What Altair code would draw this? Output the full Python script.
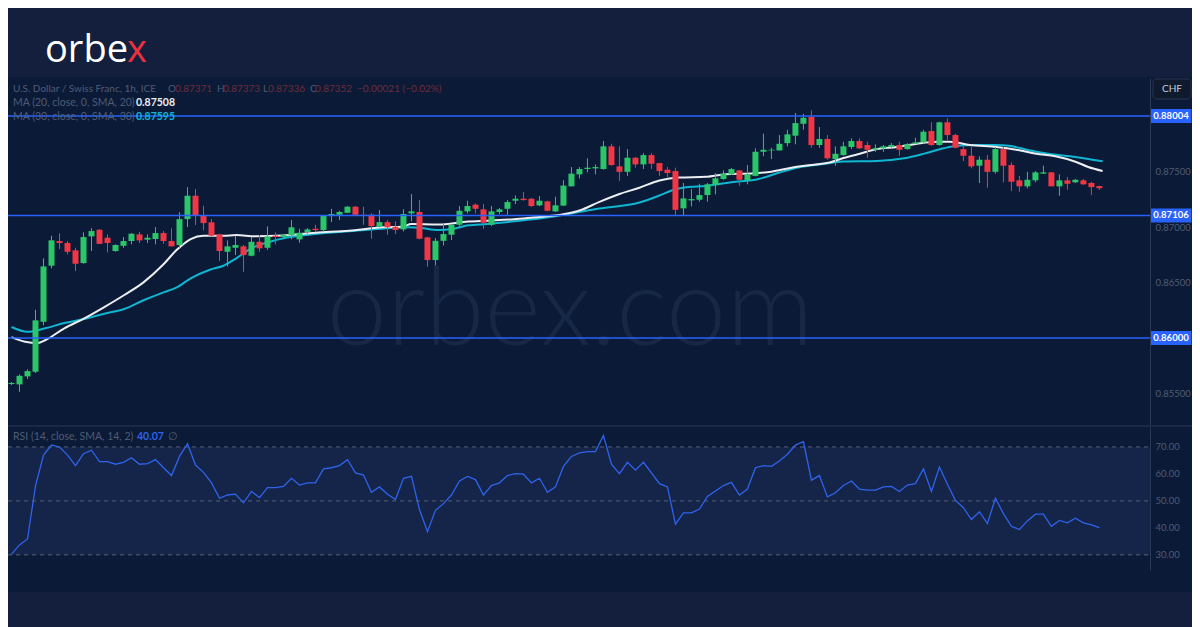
import json
import altair as alt
import pandas as pd

# ---------------- data ----------------
opens = [0.85584, 0.85581, 0.85653, 0.85695, 0.86146, 0.86652, 0.86875, 0.86857, 0.86791, 0.86676,
         0.86917, 0.86977, 0.86905, 0.86785, 0.86832, 0.86875, 0.86935, 0.86887, 0.86893, 0.86947,
         0.86875, 0.86839, 0.87073, 0.87284, 0.87110, 0.87044, 0.86935, 0.86778, 0.86814, 0.86827,
         0.86742, 0.86868, 0.86814, 0.86923, 0.86911, 0.86926, 0.86890, 0.86956, 0.86986, 0.86974,
         0.87101, 0.87112, 0.87130, 0.87185, 0.87112, 0.87112, 0.87004, 0.87046, 0.87004, 0.86980,
         0.87125, 0.87137, 0.86908, 0.86703, 0.86877, 0.86932, 0.87022, 0.87143, 0.87203, 0.87161,
         0.87022, 0.87137, 0.87166, 0.87239, 0.87257, 0.87257, 0.87197, 0.87233, 0.87143, 0.87195,
         0.87369, 0.87477, 0.87525, 0.87531, 0.87525, 0.87730, 0.87549, 0.87500, 0.87627, 0.87567,
         0.87651, 0.87579, 0.87519, 0.87507, 0.87170, 0.87242, 0.87248, 0.87290, 0.87380, 0.87435,
         0.87477, 0.87513, 0.87423, 0.87463, 0.87681, 0.87693, 0.87693, 0.87759, 0.87826, 0.87934,
         0.87995, 0.87742, 0.87796, 0.87615, 0.87651, 0.87724, 0.87778, 0.87742, 0.87699, 0.87712,
         0.87724, 0.87742, 0.87705, 0.87753, 0.87766, 0.87868, 0.87742, 0.87947, 0.87832, 0.87705,
         0.87645, 0.87555, 0.87609, 0.87500, 0.87705, 0.87561, 0.87423, 0.87369, 0.87423, 0.87483,
         0.87495, 0.87369, 0.87423, 0.87405, 0.87423, 0.87399, 0.87371]
highs = [0.85602, 0.85671, 0.85716, 0.86254, 0.86719, 0.86923, 0.86944, 0.86875, 0.86814, 0.86953,
         0.86990, 0.86983, 0.86935, 0.86845, 0.86911, 0.86947, 0.86958, 0.86935, 0.87001, 0.86965,
         0.86990, 0.87134, 0.87362, 0.87344, 0.87194, 0.87073, 0.86941, 0.86881, 0.86923, 0.86839,
         0.86911, 0.86929, 0.87008, 0.86953, 0.86938, 0.87064, 0.86986, 0.86992, 0.87022, 0.87107,
         0.87166, 0.87148, 0.87191, 0.87191, 0.87185, 0.87125, 0.87155, 0.87064, 0.87053, 0.87161,
         0.87299, 0.87245, 0.86914, 0.86902, 0.87035, 0.87028, 0.87191, 0.87239, 0.87215, 0.87209,
         0.87191, 0.87173, 0.87245, 0.87287, 0.87317, 0.87263, 0.87281, 0.87239, 0.87275, 0.87424,
         0.87543, 0.87543, 0.87622, 0.87567, 0.87778, 0.87753, 0.87730, 0.87705, 0.87633, 0.87669,
         0.87669, 0.87579, 0.87543, 0.87537, 0.87399, 0.87344, 0.87392, 0.87399, 0.87489, 0.87513,
         0.87534, 0.87516, 0.87561, 0.87712, 0.87844, 0.87717, 0.87832, 0.87880, 0.88031, 0.88024,
         0.88055, 0.87904, 0.87832, 0.87730, 0.87771, 0.87802, 0.87802, 0.87771, 0.87748, 0.87742,
         0.87759, 0.87771, 0.87759, 0.87808, 0.87880, 0.87947, 0.87952, 0.87983, 0.87844, 0.87730,
         0.87724, 0.87640, 0.87651, 0.87724, 0.87724, 0.87585, 0.87463, 0.87500, 0.87507, 0.87555,
         0.87498, 0.87477, 0.87453, 0.87435, 0.87435, 0.87410, 0.87373]
lows = [0.85575, 0.85514, 0.85629, 0.85683, 0.86116, 0.86628, 0.86802, 0.86755, 0.86604, 0.86670,
        0.86785, 0.86848, 0.86773, 0.86778, 0.86814, 0.86845, 0.86857, 0.86857, 0.86845, 0.86850,
        0.86827, 0.86814, 0.87001, 0.87019, 0.86971, 0.86917, 0.86694, 0.86646, 0.86748, 0.86597,
        0.86737, 0.86778, 0.86796, 0.86845, 0.86902, 0.86890, 0.86859, 0.86938, 0.86956, 0.86962,
        0.87046, 0.87064, 0.87128, 0.87110, 0.87022, 0.86896, 0.86999, 0.86932, 0.86938, 0.86962,
        0.87053, 0.86890, 0.86643, 0.86655, 0.86835, 0.86884, 0.87004, 0.87125, 0.87125, 0.86986,
        0.87010, 0.87119, 0.87112, 0.87209, 0.87239, 0.87182, 0.87191, 0.87143, 0.87137, 0.87191,
        0.87369, 0.87441, 0.87495, 0.87477, 0.87519, 0.87555, 0.87417, 0.87463, 0.87537, 0.87525,
        0.87525, 0.87463, 0.87453, 0.87110, 0.87110, 0.87188, 0.87230, 0.87230, 0.87297, 0.87428,
        0.87471, 0.87374, 0.87387, 0.87459, 0.87640, 0.87615, 0.87693, 0.87730, 0.87748, 0.87880,
        0.87717, 0.87717, 0.87609, 0.87555, 0.87645, 0.87705, 0.87705, 0.87627, 0.87681, 0.87681,
        0.87717, 0.87645, 0.87699, 0.87753, 0.87759, 0.87735, 0.87735, 0.87790, 0.87712, 0.87597,
        0.87531, 0.87399, 0.87356, 0.87483, 0.87405, 0.87326, 0.87320, 0.87351, 0.87405, 0.87483,
        0.87369, 0.87284, 0.87338, 0.87399, 0.87380, 0.87290, 0.87336]
closes = [0.85593, 0.85658, 0.85701, 0.86159, 0.86646, 0.86881, 0.86857, 0.86778, 0.86670, 0.86911,
          0.86965, 0.86850, 0.86857, 0.86839, 0.86875, 0.86941, 0.86881, 0.86905, 0.86947, 0.86875,
          0.86827, 0.87073, 0.87284, 0.87103, 0.87037, 0.86923, 0.86785, 0.86827, 0.86839, 0.86748,
          0.86868, 0.86809, 0.86917, 0.86911, 0.86929, 0.86999, 0.86950, 0.86980, 0.86974, 0.87101,
          0.87119, 0.87137, 0.87185, 0.87112, 0.87101, 0.87010, 0.87046, 0.86999, 0.86974, 0.87119,
          0.87143, 0.86896, 0.86703, 0.86877, 0.86938, 0.87022, 0.87148, 0.87191, 0.87166, 0.87040,
          0.87143, 0.87161, 0.87227, 0.87257, 0.87245, 0.87191, 0.87239, 0.87148, 0.87197, 0.87376,
          0.87483, 0.87525, 0.87537, 0.87543, 0.87730, 0.87561, 0.87500, 0.87627, 0.87567, 0.87651,
          0.87573, 0.87507, 0.87489, 0.87157, 0.87260, 0.87254, 0.87290, 0.87387, 0.87441, 0.87483,
          0.87525, 0.87428, 0.87477, 0.87681, 0.87699, 0.87699, 0.87753, 0.87838, 0.87940, 0.87988,
          0.87742, 0.87796, 0.87622, 0.87663, 0.87730, 0.87778, 0.87712, 0.87699, 0.87712, 0.87730,
          0.87742, 0.87699, 0.87748, 0.87766, 0.87862, 0.87742, 0.87947, 0.87832, 0.87717, 0.87645,
          0.87549, 0.87609, 0.87500, 0.87705, 0.87555, 0.87410, 0.87369, 0.87428, 0.87495, 0.87495,
          0.87369, 0.87423, 0.87392, 0.87428, 0.87387, 0.87362, 0.87352]

rsi_vals = [30.3, 33.7, 35.9, 55.6, 67.0, 70.7, 70.0, 67.0, 63.1, 67.5,
            68.8, 64.6, 64.6, 63.6, 64.3, 66.0, 63.6, 63.8, 65.3, 62.3,
            59.4, 66.5, 71.2, 63.3, 60.6, 56.7, 51.0, 52.2, 52.5, 49.3,
            53.5, 51.2, 54.9, 54.9, 55.4, 58.4, 55.9, 56.7, 56.7, 61.9,
            62.3, 63.1, 65.3, 60.4, 59.6, 53.2, 55.2, 52.5, 50.5, 58.4,
            59.1, 46.8, 38.6, 46.5, 49.0, 52.2, 57.4, 59.1, 57.9, 52.2,
            55.7, 56.7, 59.4, 60.1, 59.9, 56.7, 58.4, 53.2, 55.2, 62.8,
            66.5, 67.8, 68.3, 68.3, 74.2, 63.6, 60.1, 64.3, 61.4, 64.3,
            60.4, 56.4, 55.2, 41.4, 45.6, 45.6, 47.0, 51.7, 53.7, 55.7,
            56.9, 52.2, 54.4, 62.3, 63.1, 62.8, 64.8, 67.3, 70.7, 72.0,
            57.7, 59.4, 51.5, 53.0, 55.7, 57.4, 54.4, 54.0, 54.0, 55.2,
            55.4, 53.5, 55.9, 56.4, 61.9, 53.5, 62.6, 56.2, 50.2, 47.5,
            43.1, 46.0, 41.6, 51.0, 45.3, 40.6, 39.4, 42.6, 45.1, 45.1,
            40.6, 42.8, 41.9, 43.6, 41.9, 41.1, 40.07]

ma20_idx = [0, 1.7, 3.3, 4.2, 6.6, 9.1, 11.6, 14.1, 16.5, 19, 20.6, 22.4, 24, 26.5, 28.1, 30.5, 33.9,
            38, 42.2, 46.3, 48.8, 50, 53.3, 57.1, 59.5, 62.8, 65.2, 69, 71.1, 73.5, 76, 78.5, 81,
            83.5, 86.8, 89.3, 92.5, 95, 97.5, 100, 102.4, 103.9, 105.8, 108.2, 110.7, 113.2, 115.7,
            117.3, 119.8, 123.1, 125.6, 128.1, 130.5, 133, 134.6, 136.4]
ma20_vals = [0.86008, 0.85966, 0.85954, 0.85979, 0.86087, 0.86177, 0.86279, 0.86388, 0.86502, 0.86665,
             0.86791, 0.86893, 0.86923, 0.86923, 0.86929, 0.86918, 0.86925, 0.86950, 0.86968, 0.86999,
             0.87004, 0.87029, 0.87025, 0.87051, 0.87059, 0.87071, 0.87088, 0.87117, 0.87153, 0.87229,
             0.87300, 0.87356, 0.87422, 0.87449, 0.87455, 0.87478, 0.87485, 0.87501, 0.87537, 0.87562,
             0.87586, 0.87622, 0.87658, 0.87706, 0.87724, 0.87754, 0.87772, 0.87772, 0.87742, 0.87724,
             0.87700, 0.87664, 0.87640, 0.87591, 0.87544, 0.87508]
ma30_idx = [0, 2, 4.2, 6.6, 9.1, 11.6, 14.1, 16.5, 19, 20.6, 22.4, 24.8, 26.5, 28.1, 29.8, 32.3, 34.3,
            38, 42.2, 46.3, 49.6, 51.2, 53.3, 55.3, 57.1, 59.5, 62.8, 65.2, 69, 73.5, 78.5, 81, 82.6,
            84.3, 86.8, 90, 93.4, 95.8, 98.3, 101.7, 103.9, 108.2, 111.6, 114.1, 116.5, 118.2, 120.6,
            123.1, 124.7, 127.2, 129.6, 133, 136.4]
ma30_vals = [0.86099, 0.86056, 0.86087, 0.86135, 0.86171, 0.86219, 0.86261, 0.86340, 0.86412, 0.86454,
             0.86538, 0.86616, 0.86652, 0.86719, 0.86803, 0.86869, 0.86905, 0.86938, 0.86963, 0.86986,
             0.86999, 0.86993, 0.86975, 0.86986, 0.87017, 0.87029, 0.87053, 0.87071, 0.87112, 0.87169,
             0.87223, 0.87286, 0.87334, 0.87360, 0.87372, 0.87406, 0.87435, 0.87489, 0.87539, 0.87573,
             0.87593, 0.87598, 0.87622, 0.87664, 0.87712, 0.87736, 0.87742, 0.87742, 0.87736, 0.87694,
             0.87664, 0.87634, 0.87595]

levels = [0.88004, 0.87106, 0.86000]
level_labels = ["0.88004", "0.87106", "0.86000"]
price_ticks = [0.855, 0.865, 0.870, 0.875]
rsi_ticks = [30, 40, 50, 60, 70]
rsi_guides = [30, 50, 70]
time_idx = [2, 14, 26, 37, 49, 61, 73, 85, 97, 109, 121, 133]
time_labels = ["12:00", "28", "12:00", "31", "12:00", "Aug", "12:00", "2", "12:00", "3", "12:00", "4"]

title_text = "U.S. Dollar / Swiss Franc, 1h, ICE"
ohlc_text = [("O", "0.87371"), ("H", "0.87373"), ("L", "0.87336"), ("C", "0.87352")]
change_text = "\u22120.00021 (\u22120.02%)"
ma20_text, ma20_last = "MA (20, close, 0, SMA, 20)", "0.87508"
ma30_text, ma30_last = "MA (30, close, 0, SMA, 30)", "0.87595"
rsi_text, rsi_last = "RSI (14, close, SMA, 14, 2)", "40.07"

# ---------------- styling ----------------
W, H = 1142, 492
PRICE_H = 347
RSI_TOP = 349
FONT = "Lato"
BG = "#131f3c"
PANEL = "#0b1a36"
BAND = "#15254a"
GREEN = "#2bc66a"
RED = "#f23645"
MA20_C = "#eceef2"
MA30_C = "#0fb6d2"
BLUE = "#2962ff"
RSI_C = "#2e63ea"
AXIS_LINE = "#2a3856"
DIM = "#4f5c75"
DIM_RED = "#6e2d3a"

xs = alt.Scale(domain=[0.186, 141.7], nice=False, zero=False)
ps = alt.Scale(domain=[0.85214, 0.88347], range=[PRICE_H, 0], nice=False, zero=False)
rs = alt.Scale(domain=[24.4, 77.4], range=[H, RSI_TOP], nice=False, zero=False)
XN = alt.X("i:Q", scale=xs, axis=None)

ONE = pd.DataFrame({"k": [0]})

candles = pd.DataFrame({"i": list(range(len(opens))), "open": opens, "high": highs,
                        "low": lows, "close": closes})
rsi_df = pd.DataFrame({"i": list(range(len(rsi_vals))), "rsi": rsi_vals})
ma20_df = pd.DataFrame({"i": ma20_idx, "v": ma20_vals})
ma30_df = pd.DataFrame({"i": ma30_idx, "v": ma30_vals})
lvl_df = pd.DataFrame({"level": levels, "label": level_labels})
guide_df = pd.DataFrame({"g": rsi_guides})
band_df = pd.DataFrame({"lo": [30], "hi": [70]})

col = alt.condition("datum.close >= datum.open", alt.value(GREEN), alt.value(RED))


def txt(s, x, y, color, size=10.5, weight="normal", font=FONT, align="left", baseline="middle", opacity=1):
    return alt.Chart(ONE).mark_text(text=s, color=color, fontSize=size, fontWeight=weight, font=font,
                                    align=align, baseline=baseline, opacity=opacity).encode(
        x=alt.value(x), y=alt.value(y))


panel = alt.Chart(ONE).mark_rect(color=PANEL).encode(
    x=alt.value(0), x2=alt.value(1184), y=alt.value(-1), y2=alt.value(514))

band = alt.Chart(band_df).mark_rect(color=BAND).encode(
    x=alt.value(0), x2=alt.value(W),
    y=alt.Y("lo:Q", scale=rs, axis=None), y2="hi:Q")

guides = alt.Chart(guide_df).mark_rule(color="#56627a", strokeDash=[4, 4], strokeWidth=1).encode(
    x=alt.value(0), x2=alt.value(W), y=alt.Y("g:Q", scale=rs, axis=None))

separator = alt.Chart(ONE).mark_rule(color="#1b2846", strokeWidth=2).encode(
    x=alt.value(0), x2=alt.value(1184), y=alt.value(348))

watermark = txt("orbex.com", 562, 267, "#172846", size=108, weight=300, align="center",
                baseline="alphabetic")

ma30 = alt.Chart(ma30_df).mark_line(color=MA30_C, strokeWidth=2, interpolate="monotone", clip=True).encode(
    x=XN, y=alt.Y("v:Q", scale=ps, axis=None))
ma20 = alt.Chart(ma20_df).mark_line(color=MA20_C, strokeWidth=2, interpolate="monotone", clip=True).encode(
    x=XN, y=alt.Y("v:Q", scale=ps, axis=None))

wicks = alt.Chart(candles).mark_rule(strokeWidth=1, clip=True).encode(
    x=XN, y=alt.Y("low:Q", scale=ps, axis=None), y2="high:Q", color=col)
bodies = alt.Chart(candles).mark_bar(size=6, clip=True).encode(
    x=XN, y=alt.Y("open:Q", scale=ps, axis=None), y2="close:Q", color=col)

axis_style = dict(grid=False, ticks=False, domain=True, domainColor=AXIS_LINE,
                  labelFont=FONT, title=None, zindex=2)

lvl_lines = alt.Chart(lvl_df).mark_rule(color=BLUE, strokeWidth=1.5).encode(
    x=alt.value(0), x2=alt.value(W),
    y=alt.Y("level:Q", scale=ps,
            axis=alt.Axis(orient="right", values=price_ticks, format=".5f", labelColor=DIM,
                          labelFontSize=9.5, labelPadding=5, labelAlign="left", **axis_style)))
lvl_box = alt.Chart(lvl_df).mark_tick(orient="horizontal", size=41, thickness=14, color=BLUE, opacity=1).encode(
    x=alt.value(1163), y=alt.Y("level:Q", scale=ps, axis=None))
lvl_txt = alt.Chart(lvl_df).mark_text(color="white", fontSize=9.5, fontWeight="bold", font=FONT,
                                      align="center", baseline="middle").encode(
    x=alt.value(1163), y=alt.Y("level:Q", scale=ps, axis=None), text="label:N")

expr = "%s[indexof(%s, datum.value)]" % (json.dumps(time_labels).replace('"', "'"), json.dumps(time_idx))
rsi_line = alt.Chart(rsi_df).mark_line(color=RSI_C, strokeWidth=1.3, clip=True).encode(
    x=alt.X("i:Q", scale=xs,
            axis=alt.Axis(orient="bottom", values=time_idx, labelExpr=expr, labelColor="#5d6983",
                          labelFontSize=10, labelPadding=6, labelFlush=False, labelOverlap=False,
                          **axis_style)),
    y=alt.Y("rsi:Q", scale=rs,
            axis=alt.Axis(orient="right", values=rsi_ticks, format=".2f", labelColor=DIM,
                          labelFontSize=9.5, labelPadding=5, labelAlign="left", **axis_style)))

chf_box = alt.Chart(ONE).mark_rect(fill="#0f1a2e", stroke="#2b3550", cornerRadius=3).encode(
    x=alt.value(1145), x2=alt.value(1183), y=alt.value(1), y2=alt.value(21))

texts = [
    txt("orbe", 37, -16, "white", size=38, font="Open Sans", baseline="alphabetic"),
    txt("x", 119, -16, "#e8323f", size=38, font="Open Sans", baseline="alphabetic"),
    txt(title_text, 5, 11, DIM, size=10),
    txt(change_text, 349, 11, DIM_RED, size=10),
    txt(ma20_text, 5, 25, DIM),
    txt(ma20_last, 128, 25, MA20_C, weight="bold"),
    txt(ma30_text, 5, 39, DIM),
    txt(ma30_last, 128, 39, MA30_C, weight="bold"),
    txt(rsi_text, 5, 358.5, DIM),
    txt(rsi_last, 129, 358.5, RSI_C, weight="bold"),
    txt("\u2205", 160, 358.5, DIM),
    txt("CHF", 1164, 11, "#c5cad6", size=10, align="center"),
]
ox = [(160, 167), (209, 215), (255, 260), (302, 307)]
for (letter, val), (lx, vx) in zip(ohlc_text, ox):
    texts.append(txt(letter, lx, 11, DIM, size=10))
    texts.append(txt(val, vx, 11, DIM_RED, size=10))

chart = alt.layer(
    panel, band, guides, separator, watermark, ma30, ma20, wicks, bodies,
    lvl_lines, lvl_box, lvl_txt, rsi_line, chf_box, *texts
).resolve_scale(y="independent").properties(
    width=W, height=H, background=BG,
    autosize=alt.AutoSizeParams(type="none"),
    padding={"left": 0, "top": 70, "right": 42, "bottom": 57},
).configure_view(stroke=None)

chart.save("out.html", embed_options={"renderer": "svg", "actions": False})
